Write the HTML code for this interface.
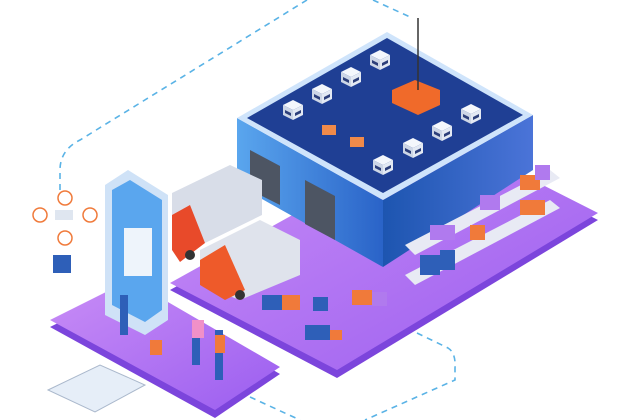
<!DOCTYPE html>
<html><head><style>html,body{margin:0;padding:0;background:#fff;}svg{display:block}</style></head>
<body>
<svg width="626" height="420" viewBox="0 0 626 420" xmlns="http://www.w3.org/2000/svg">
<defs>
<linearGradient id="pl" x1="0" y1="0" x2="1" y2="1"><stop offset="0" stop-color="#c98df6"/><stop offset="1" stop-color="#9b5ef0"/></linearGradient>
<linearGradient id="rf" x1="0" y1="0" x2="1" y2="0"><stop offset="0" stop-color="#5aa6ee"/><stop offset="1" stop-color="#2a63c8"/></linearGradient>
<linearGradient id="rt" x1="0" y1="0" x2="1" y2="0"><stop offset="0" stop-color="#1d55b0"/><stop offset="1" stop-color="#4b74d8"/></linearGradient>
<g id="cube"><path d="M0 5 L10 0 L20 5 L10 10 Z" fill="#f4f7fc"/><path d="M0 5 L10 10 L10 20 L0 15 Z" fill="#cdd6e6"/><path d="M10 10 L20 5 L20 15 L10 20 Z" fill="#e3e9f3"/><path d="M2 10 L8 13 L8 16 L2 13 Z M12 13 L18 10 L18 13 L12 16 Z" fill="#2d3f7a"/></g>
</defs>
<g fill="none" stroke="#5ab3e6" stroke-width="1.6" stroke-dasharray="6,5">
<path d="M60 190 L60 170 Q60 150 80 140 L307 0"/>
<path d="M373 0 L410 17"/>
<path d="M417 333 L448 348 Q456 353 455 368 L455 380 L365 420"/>
<path d="M250 397 L300 420"/>
</g>
<path d="M170 290 L440 140 L598 220 L337 378 Z" fill="#7c45dc"/>
<path d="M170 283 L440 133 L598 213 L337 370 Z" fill="url(#pl)"/>
<path d="M50 327 L130 287 L280 374 L215 418 Z" fill="#7c45dc"/>
<path d="M50 320 L130 280 L280 367 L215 410 Z" fill="url(#pl)"/>
<path d="M237 118 L383 200 L383 267 L237 185 Z" fill="url(#rf)"/>
<path d="M383 200 L533 115 L533 170 L383 267 Z" fill="url(#rt)"/>
<path d="M237 118 L387 32 L533 115 L383 200 Z" fill="#cfe4fb"/>
<path d="M247 118 L387 38 L523 115 L383 193 Z" fill="#1f3f94"/>
<path d="M250 150 L280 166 L280 205 L250 190 Z M305 180 L335 196 L335 240 L305 224 Z" fill="#4d5563"/>
<use href="#cube" x="283" y="100"/><use href="#cube" x="312" y="84"/><use href="#cube" x="341" y="67"/><use href="#cube" x="370" y="50"/>
<use href="#cube" x="373" y="155"/><use href="#cube" x="403" y="138"/><use href="#cube" x="432" y="121"/><use href="#cube" x="461" y="104"/>
<path d="M392 90 L415 80 L440 90 L440 105 L418 115 L392 103 Z" fill="#f06a2a"/>
<line x1="418" y1="18" x2="418" y2="90" stroke="#333" stroke-width="1.5"/>
<rect x="322" y="125" width="14" height="10" fill="#f08a4a"/><rect x="350" y="137" width="14" height="10" fill="#f08a4a"/>
<g fill="#e8eaf4"><path d="M405 245 L550 170 L560 178 L415 255 Z"/><path d="M405 275 L550 200 L560 208 L415 285 Z"/></g>
<g fill="#f07a3a"><rect x="520" y="175" width="20" height="15"/><rect x="520" y="200" width="25" height="15"/><rect x="470" y="225" width="15" height="15"/></g>
<g fill="#b07aee"><rect x="480" y="195" width="20" height="15"/><rect x="535" y="165" width="15" height="15"/><rect x="430" y="225" width="25" height="15"/></g>
<g fill="#2e5fb8"><rect x="420" y="255" width="20" height="20"/><rect x="440" y="250" width="15" height="20"/></g>
<path d="M172 193 L230 165 L262 180 L262 215 L205 243 L172 228 Z" fill="#d8dde8"/>
<path d="M172 215 L190 205 L205 243 L180 262 L172 250 Z" fill="#e84a2a"/>
<path d="M200 250 L260 220 L300 240 L300 275 L240 300 L200 285 Z" fill="#dfe3ec"/>
<path d="M200 260 L225 245 L245 290 L225 300 L200 285 Z" fill="#ee5a2a"/>
<g fill="#333"><circle cx="190" cy="255" r="5"/><circle cx="240" cy="295" r="5"/></g>
<g fill="#2e5fb8"><rect x="262" y="295" width="20" height="15"/><rect x="305" y="325" width="25" height="15"/><rect x="313" y="297" width="15" height="14"/></g>
<g fill="#f07a3a"><rect x="282" y="295" width="18" height="15"/><rect x="352" y="290" width="20" height="15"/><rect x="330" y="330" width="12" height="10"/></g>
<g fill="#b07aee"><rect x="372" y="292" width="15" height="14"/></g>
<path d="M105 185 L128 170 L168 195 L168 320 L145 335 L105 315 Z" fill="#cfe2f7"/>
<path d="M112 190 L130 180 L162 200 L162 310 L145 322 L112 305 Z" fill="#5aa6ee"/>
<rect x="124" y="228" width="28" height="48" fill="#eef4fb"/>
<g fill="none" stroke="#f07a3a" stroke-width="1.5"><circle cx="40" cy="215" r="7"/><circle cx="90" cy="215" r="7"/><circle cx="65" cy="198" r="7"/><circle cx="65" cy="238" r="7"/></g>
<rect x="55" y="210" width="18" height="10" fill="#dfe6f0"/>
<rect x="53" y="255" width="18" height="18" fill="#2e5fb8"/>
<g fill="#2e5fb8"><rect x="120" y="295" width="8" height="40"/><rect x="192" y="320" width="8" height="45"/><rect x="215" y="330" width="8" height="50"/></g>
<g fill="#f07a3a"><rect x="215" y="335" width="10" height="18"/><rect x="150" y="340" width="12" height="15"/></g>
<rect x="192" y="320" width="12" height="18" fill="#f090c8"/>
<path d="M48 390 L100 365 L145 385 L95 412 Z" fill="#e6eef8" stroke="#aab8cc"/>
</svg>
</body></html>
